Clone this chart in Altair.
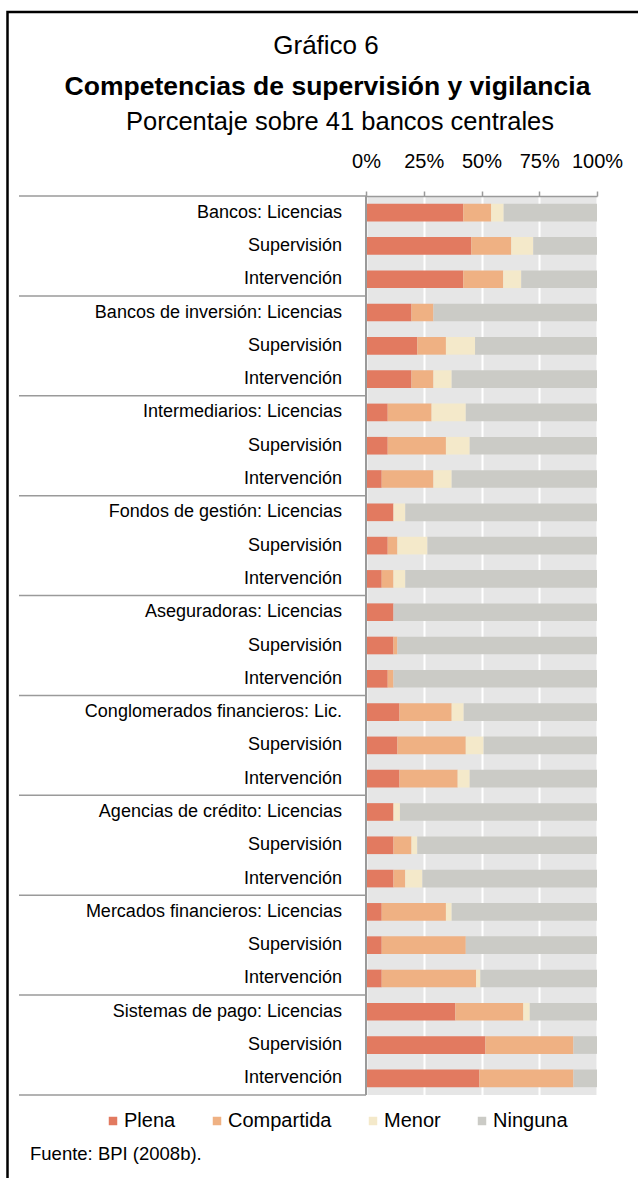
import altair as alt
import pandas as pd

# Row labels, top to bottom
filas = [
    "Bancos: Licencias", "Supervisión", "Intervención",
    "Bancos de inversión: Licencias", "Supervisión", "Intervención",
    "Intermediarios: Licencias", "Supervisión", "Intervención",
    "Fondos de gestión: Licencias", "Supervisión", "Intervención",
    "Aseguradoras: Licencias", "Supervisión", "Intervención",
    "Conglomerados financieros: Lic.", "Supervisión", "Intervención",
    "Agencias de crédito: Licencias", "Supervisión", "Intervención",
    "Mercados financieros: Licencias", "Supervisión", "Intervención",
    "Sistemas de pago: Licencias", "Supervisión", "Intervención",
]

# Share of central banks (%) in each competence level
plena = [42.1, 45.6, 42.1, 19.7, 22.2, 19.7, 9.4, 9.4, 6.8, 11.9, 9.4, 6.8, 11.9, 11.9,
         9.4, 14.5, 13.6, 14.5, 11.9, 11.9, 11.9, 6.8, 6.8, 6.8, 38.7, 51.7, 49.1]
compartida = [12.1, 17.3, 17.3, 9.5, 12.4, 9.5, 19.0, 25.2, 22.4, 0.0, 4.2, 5.1, 0.0, 1.7,
              2.5, 22.6, 29.6, 25.2, 0.0, 7.8, 5.1, 27.8, 36.4, 40.9, 29.4, 38.1, 40.7]
menor = [5.4, 9.5, 7.8, 0.0, 12.6, 7.9, 14.8, 10.3, 7.9, 5.1, 13.0, 5.1, 0.0, 0.0,
         0.0, 5.2, 7.7, 5.2, 2.8, 2.5, 7.4, 2.5, 0.0, 1.8, 2.8, 0.0, 0.0]
ninguna = [40.4, 27.6, 32.8, 70.8, 52.8, 62.9, 56.8, 55.1, 62.9, 83.0, 73.4, 83.0, 88.1, 86.4,
           88.1, 57.7, 49.1, 55.1, 85.3, 77.8, 75.6, 62.9, 56.8, 50.5, 29.1, 10.2, 10.2]

categorias = ["Plena", "Compartida", "Menor", "Ninguna"]
colores = ["#e27a60", "#efb183", "#f4e9ca", "#cbcbc6"]
ticks_x = [0, 25, 50, 75, 100]
limites_grupo = [0, 3, 6, 9, 12, 15, 18, 21, 24, 27]

titulo = "Gráfico 6"
titulo_negrita = "Competencias de supervisión y vigilancia"
subtitulo = "Porcentaje sobre 41 bancos centrales"
fuente = "Fuente: BPI (2008b)."

FONT = "Liberation Sans"
W, H = 231, 899
GRIS = "#9a9a9a"

series = [plena, compartida, menor, ninguna]
registros = []
for i, etiqueta in enumerate(filas):
    for orden, (cat, serie) in enumerate(zip(categorias, series)):
        registros.append({"fila": i, "etiqueta": etiqueta, "categoria": cat,
                          "orden": orden, "valor": serie[i]})
barras_df = pd.DataFrame(registros)
etiquetas_df = pd.DataFrame({"fila": list(range(len(filas))), "etiqueta": filas})
limites_df = pd.DataFrame({"limite": limites_grupo})


def banda():
    return alt.Scale(type="band", paddingInner=0.47, paddingOuter=0.235)


escala_filas = alt.Scale(domain=[0, len(filas)], reverse=True, nice=False, zero=False)

barras = alt.Chart(barras_df).mark_bar().encode(
    x=alt.X("valor:Q", stack="zero", title="",
            scale=alt.Scale(domain=[0, 100], nice=False),
            axis=alt.Axis(orient="top", values=ticks_x, labelExpr="datum.value + '%'",
                          grid=True, gridColor="white", gridWidth=2,
                          domainColor=GRIS, domainWidth=1.5,
                          tickColor=GRIS, tickWidth=1.5, tickSize=5,
                          labelFont=FONT, labelFontSize=20, labelColor="black",
                          labelPadding=20, labelFlush=False)),
    y=alt.Y("fila:O", scale=banda(), axis=None),
    color=alt.Color("categoria:N",
                    scale=alt.Scale(domain=categorias, range=colores),
                    legend=alt.Legend(orient="none", legendX=-263, legendY=915,
                                      direction="horizontal", title=None,
                                      symbolType="square", symbolSize=72,
                                      symbolStrokeWidth=0,
                                      labelFont=FONT, labelFontSize=20,
                                      labelColor="black", labelOffset=1,
                                      columnPadding=31)),
    order=alt.Order("orden:Q"),
)

etiquetas = alt.Chart(etiquetas_df).mark_text(
    align="right", baseline="middle", font=FONT, fontSize=18, color="black"
).encode(
    x=alt.value(-24),
    y=alt.Y("fila:O", scale=banda(), axis=None),
    text="etiqueta:N",
)

separadores = alt.Chart(limites_df).mark_rule(color=GRIS, strokeWidth=1.5).encode(
    y=alt.Y("limite:Q", scale=escala_filas, axis=None),
    x=alt.value(-347),
    x2=alt.value(0),
)

eje_vertical = alt.Chart(limites_df).mark_rule(color=GRIS, strokeWidth=2).encode(
    x=alt.value(0),
    y=alt.Y("min(limite):Q", scale=escala_filas, axis=None),
    y2="max(limite):Q",
)


def texto(cadena, x, y, size, align="center", weight="normal"):
    return alt.Chart(pd.DataFrame({"t": [cadena]})).mark_text(
        align=align, baseline="alphabetic", font=FONT, fontSize=size,
        fontWeight=weight, color="black"
    ).encode(x=alt.value(x), y=alt.value(y), text="t:N")


marco = alt.Chart(pd.DataFrame({"t": [0]})).mark_rect(
    fillOpacity=0, stroke="black", strokeWidth=2.5
).encode(x=alt.value(-358.5), x2=alt.value(400), y=alt.value(-184), y2=alt.value(1100))

chart = alt.layer(
    barras,
    etiquetas,
    separadores,
    eje_vertical,
    texto(titulo, -40, -142, 26),
    texto(titulo_negrita, -38.5, -101, 26.5, weight="bold"),
    texto(subtitulo, -26, -66, 25.5),
    texto(fuente, -336, 964, 18.5, align="left"),
    marco,
).resolve_scale(y="independent").properties(
    width=W,
    height=H,
    autosize=alt.AutoSizeParams(type="none"),
    padding={"left": 366, "top": 196, "right": 41, "bottom": 83},
    background="white",
).configure_view(fill="#e6e6e6", strokeWidth=0)

chart.save("out.html", embed_options={"renderer": "svg", "actions": False})
